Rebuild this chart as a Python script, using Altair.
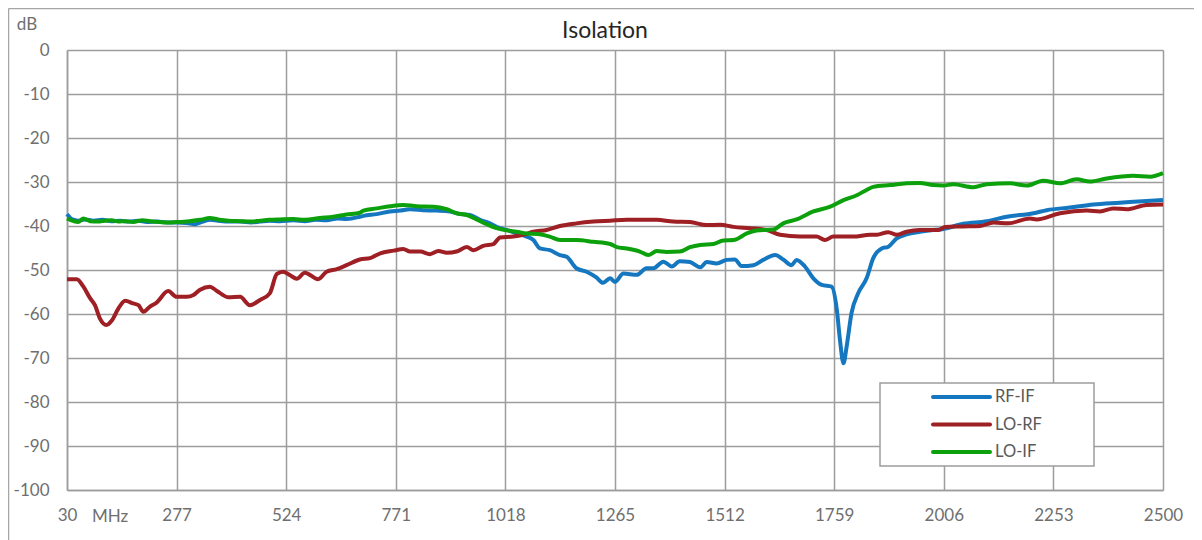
import altair as alt
import pandas as pd

# ---------------- data ----------------
rf_if_freq = [30, 42, 55, 70, 90, 110, 130, 150, 170, 190, 210, 232, 255, 277, 300, 318, 330, 352, 370,
              394, 420, 445, 465, 487, 510, 540, 566, 590, 615, 640, 660, 690, 698, 728, 758, 781, 803,
              833, 863, 893, 916, 938, 961, 983, 998, 1021, 1043, 1066, 1081, 1096, 1118, 1141, 1156,
              1178, 1201, 1223, 1238, 1254, 1265, 1284, 1314, 1336, 1351, 1374, 1393, 1411, 1434, 1457,
              1472, 1494, 1517, 1535, 1550, 1577, 1599, 1626, 1644, 1663, 1674, 1693, 1712, 1731, 1753,
              1765, 1772, 1780, 1787, 1798, 1813, 1832, 1847, 1866, 1881, 1900, 1922, 1952, 1982, 1997,
              2050, 2103, 2148, 2208, 2238, 2290, 2343, 2403, 2463, 2500]
rf_if_db = [-37.3, -38.5, -38.8, -38.5, -38.8, -38.6, -38.9, -38.8, -39.0, -38.8, -39.1, -39.0, -39.2,
            -39.2, -39.3, -39.6, -39.2, -38.6, -38.8, -39.0, -39.0, -39.2, -39.0, -38.8, -38.9, -38.7,
            -38.9, -38.6, -38.7, -38.3, -38.4, -37.9, -37.7, -37.3, -36.7, -36.5, -36.2, -36.4, -36.5,
            -36.7, -37.3, -37.5, -38.6, -39.4, -40.2, -40.9, -41.7, -42.4, -43.2, -45.1, -45.5, -46.6,
            -47.0, -49.6, -50.4, -51.7, -52.9, -51.9, -52.7, -50.8, -51.1, -49.6, -49.6, -48.1, -49.2,
            -48.0, -48.2, -49.4, -48.2, -48.5, -47.7, -47.6, -49.1, -48.9, -47.7, -46.6, -47.6, -48.9,
            -47.7, -49.2, -51.9, -53.4, -53.8, -59.1, -65.9, -71.2, -67.4, -59.8, -55.3, -51.9, -47.3,
            -45.1, -44.7, -42.8, -41.9, -41.3, -40.9, -40.8, -39.5, -38.9, -37.9, -37.1, -36.4, -35.8,
            -35.1, -34.7, -34.3, -34.1]

lo_rf_freq = [30, 52, 67, 82, 93, 104, 119, 131, 146, 161, 179, 191, 202, 217, 232, 258, 277, 300, 315,
              330, 352, 367, 394, 420, 442, 465, 487, 503, 517, 533, 548, 566, 596, 615, 638, 660, 690,
              713, 736, 766, 788, 803, 826, 848, 867, 886, 908, 931, 946, 968, 991, 1006, 1036, 1058,
              1081, 1111, 1141, 1178, 1216, 1254, 1291, 1329, 1359, 1396, 1434, 1472, 1502, 1532, 1569,
              1607, 1637, 1682, 1719, 1738, 1757, 1802, 1840, 1855, 1881, 1900, 1922, 1952, 1994, 2009,
              2050, 2088, 2118, 2151, 2200, 2215, 2268, 2328, 2358, 2388, 2418, 2463, 2500]
lo_rf_db = [-52.1, -52.1, -53.8, -56.4, -58.0, -61.0, -62.5, -61.5, -58.7, -57.0, -57.6, -58.0, -59.5,
            -58.3, -57.4, -54.8, -56.1, -56.1, -55.7, -54.5, -53.8, -54.7, -56.2, -56.1, -58.0, -56.8,
            -55.3, -50.9, -50.4, -51.2, -52.0, -50.6, -52.1, -50.4, -49.8, -48.9, -47.6, -47.3, -46.2,
            -45.6, -45.2, -45.8, -45.8, -46.4, -45.7, -46.1, -45.8, -44.8, -45.5, -44.5, -44.1, -42.6,
            -42.4, -42.0, -41.3, -40.9, -40.0, -39.4, -39.0, -38.8, -38.6, -38.6, -38.6, -39.0, -39.1,
            -39.8, -39.7, -40.2, -40.5, -40.9, -42.0, -42.4, -42.4, -43.2, -42.4, -42.4, -42.0, -42.0,
            -41.4, -42.0, -41.3, -40.9, -40.9, -40.2, -40.1, -40.0, -39.2, -39.4, -38.3, -38.5, -37.1,
            -36.5, -36.7, -36.0, -36.2, -35.2, -35.1]

lo_if_freq = [30, 45, 55, 67, 82, 100, 115, 130, 146, 161, 179, 200, 217, 240, 260, 277, 300, 330, 352,
              370, 394, 420, 445, 465, 487, 510, 540, 566, 600, 630, 660, 690, 698, 728, 758, 788, 818,
              856, 886, 908, 931, 953, 976, 998, 1021, 1043, 1066, 1090, 1118, 1141, 1178, 1216, 1254,
              1269, 1291, 1321, 1340, 1359, 1381, 1411, 1434, 1457, 1487, 1509, 1532, 1562, 1584, 1622,
              1644, 1674, 1712, 1750, 1780, 1810, 1832, 1847, 1885, 1922, 1952, 1982, 2005, 2027, 2073,
              2103, 2155, 2193, 2230, 2268, 2305, 2335, 2373, 2433, 2471, 2500]
lo_if_db = [-38.3, -38.9, -39.1, -38.3, -38.9, -39.0, -38.8, -38.7, -39.0, -38.9, -39.1, -38.7, -38.9,
            -39.1, -39.2, -39.1, -39.0, -38.6, -38.2, -38.5, -38.8, -38.9, -39.0, -38.8, -38.6, -38.5,
            -38.4, -38.6, -38.2, -37.9, -37.4, -37.0, -36.5, -36.0, -35.5, -35.2, -35.5, -35.6, -36.2,
            -37.1, -37.5, -38.5, -39.6, -40.5, -41.0, -41.3, -41.7, -41.8, -42.4, -43.2, -43.2, -43.6,
            -44.1, -44.8, -45.1, -45.8, -46.6, -45.7, -45.9, -45.8, -44.8, -44.3, -44.1, -43.3, -43.2,
            -41.7, -41.0, -40.8, -39.4, -38.5, -36.7, -35.6, -34.1, -33.0, -31.8, -31.1, -30.7, -30.3,
            -30.2, -30.7, -30.8, -30.5, -31.2, -30.5, -30.3, -30.8, -29.7, -30.3, -29.4, -29.9, -29.2,
            -28.6, -28.8, -28.0]

series_names = ["RF-IF", "LO-RF", "LO-IF"]
series_colors = ["#1577c0", "#9e1f24", "#0ca00c"]
x_ticks = [30, 277, 524, 771, 1018, 1265, 1512, 1759, 2006, 2253, 2500]
y_ticks = [-100, -90, -80, -70, -60, -50, -40, -30, -20, -10, 0]
texts = ["Isolation", "dB", "MHz"]

rows = []
for name, fr, db in [("RF-IF", rf_if_freq, rf_if_db),
                     ("LO-RF", lo_rf_freq, lo_rf_db),
                     ("LO-IF", lo_if_freq, lo_if_db)]:
    for i, (f, v) in enumerate(zip(fr, db)):
        rows.append({"series": name, "freq": f, "db": v, "idx": i})
df = pd.DataFrame(rows)
legend_df = pd.DataFrame({"series": series_names})
text_df = pd.DataFrame({"t": texts})

GRID = "#9d9d9d"
LABEL = "#6f6f6f"
FONT = "Lato"

color_scale = alt.Scale(domain=series_names, range=series_colors)

lines = alt.Chart(df).mark_line(strokeWidth=4, interpolate="monotone").encode(
    x=alt.X("freq:Q", scale=alt.Scale(domain=[30, 2500], nice=False, zero=False),
            axis=alt.Axis(values=x_ticks, title=None, grid=True, ticks=False, labelPadding=17,
                          labelFontSize=17, labelColor=LABEL, labelFont=FONT,
                          gridColor=GRID, gridWidth=1.5, domainColor=GRID, domainWidth=1.5,
                          labelFlush=False, labelOverlap=False, labelExpr="'' + datum.value")),
    y=alt.Y("db:Q", scale=alt.Scale(domain=[-100, 0], nice=False),
            axis=alt.Axis(values=y_ticks, title=None, grid=True, ticks=False, labelPadding=18,
                          labelFontSize=17, labelColor=LABEL, labelFont=FONT,
                          gridColor=GRID, gridWidth=1.5, domainColor=GRID, domainWidth=1.5,
                          labelFlush=False, labelOverlap=False, labelExpr="'' + datum.value")),
    color=alt.Color("series:N", scale=color_scale, legend=None),
    order=alt.Order("idx:Q"),
)

# legend (drawn manually inside the plot, as in the reference)
legend_y = alt.Y("series:N",
                 scale=alt.Scale(type="point", domain=series_names, range=[347, 402], padding=0),
                 axis=None)
legend_box = alt.Chart(text_df).transform_filter("datum.t == 'dB'").mark_rect(
    fill="white", stroke=GRID, strokeWidth=1.5
).encode(x=alt.value(813), x2=alt.value(1027), y=alt.value(333), y2=alt.value(416))
legend_lines = alt.Chart(legend_df).mark_rule(strokeWidth=4, strokeCap="round").encode(
    x=alt.value(866), x2=alt.value(923), y=legend_y,
    color=alt.Color("series:N", scale=color_scale, legend=None),
)
legend_text = alt.Chart(legend_df).mark_text(
    fontSize=16.5, font=FONT, color="#595959", align="left", baseline="middle"
).encode(x=alt.value(928), y=legend_y, text="series:N")

title_text = alt.Chart(text_df).transform_filter("datum.t == 'Isolation'").mark_text(
    fontSize=23, font=FONT, color="#262626", align="center", baseline="middle"
).encode(text="t:N", x=alt.value(538), y=alt.value(-19))
db_label = alt.Chart(text_df).transform_filter("datum.t == 'dB'").mark_text(
    fontSize=17, font=FONT, color=LABEL, align="center", baseline="middle"
).encode(text="t:N", x=alt.value(-40), y=alt.value(-25))
mhz_label = alt.Chart(text_df).transform_filter("datum.t == 'MHz'").mark_text(
    fontSize=17, font=FONT, color=LABEL, align="center", baseline="middle"
).encode(text="t:N", x=alt.value(43), y=alt.value(467))

frame_left = alt.Chart(text_df).transform_filter("datum.t == 'dB'").mark_rule(
    color="#a6a6a6", strokeWidth=1.5
).encode(x=alt.value(-58.5), y=alt.value(-41.5), y2=alt.value(495))
frame_top = alt.Chart(text_df).transform_filter("datum.t == 'dB'").mark_rule(
    color="#a6a6a6", strokeWidth=1.5
).encode(x=alt.value(-58.5), x2=alt.value(1135), y=alt.value(-41.5))

chart = alt.layer(
    frame_left, frame_top, lines, legend_box, legend_lines, legend_text,
    title_text, db_label, mhz_label
).resolve_scale(y="independent").properties(
    width=1096, height=440,
    autosize=alt.AutoSizeParams(type="none"),
    padding={"left": 59, "top": 42, "right": 31, "bottom": 50},
).configure_view(stroke=GRID, strokeWidth=1.5).configure(background="white")

chart.save("out.html", embed_options={"renderer": "svg", "actions": False})
